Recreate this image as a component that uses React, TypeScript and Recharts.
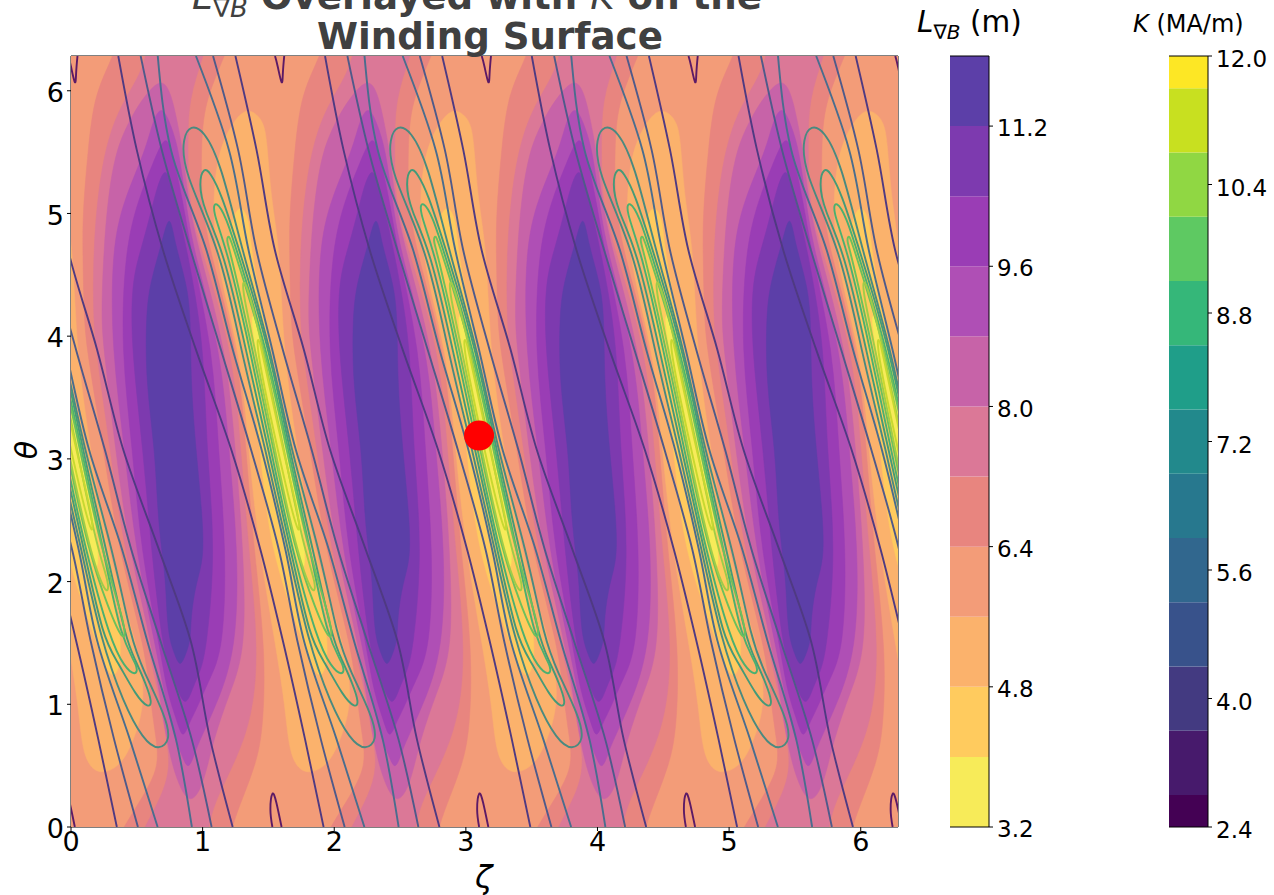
import React from 'react';
import { ScatterChart, Scatter, XAxis, YAxis, ReferenceLine, BarChart, Bar } from 'recharts';

type Pt = [number, number];

// Traced outlines for one field period, as [zeta, theta]. The picture repeats every pi/2 in zeta.
const FIELD_PERIOD = 1.5708;
const TWO_PI = 6.2832;
const xTicks = [0, 1, 2, 3, 4, 5, 6];
const yTicks = [0, 1, 2, 3, 4, 5, 6];
const backgroundOutline: Pt[] = [[0, 0], [0, TWO_PI], [TWO_PI, TWO_PI], [TWO_PI, 0]];

const band64: Pt[] = [[2.05,6.8],[1.90,6.283],[1.75,5.99],[1.70,5.52],[1.66,5.0],[1.66,4.70],[1.67,4.16],[1.69,3.89],[1.82,3.07],[1.93,2.26],[2.14,1.44],[2.18,0.98],[2.22,0.71],[2.24,0.49],[2.12,0.25],[1.97,0],[1.82,-0.3],[2.70,-0.4],[2.79,0],[2.88,0.25],[2.97,0.5],[3.03,0.77],[3.05,1.44],[2.96,2.26],[2.90,3.07],[2.84,3.89],[2.62,4.70],[2.56,5.11],[2.56,5.52],[2.58,5.9],[2.74,6.283],[2.92,6.8]];
const band72: Pt[] = [[2.24,6.7],[2.14,6.283],[2.09,6.12],[1.95,5.88],[1.85,5.61],[1.78,5.22],[1.74,4.70],[1.74,4.16],[1.76,3.89],[1.87,3.07],[1.97,2.26],[2.17,1.44],[2.29,0.77],[2.33,0.49],[2.26,0.25],[2.13,0],[2.0,-0.3],[2.52,-0.4],[2.62,0],[2.66,0.22],[2.94,0.77],[3.0,1.44],[2.92,2.26],[2.86,3.07],[2.80,3.89],[2.56,4.70],[2.46,5.11],[2.46,5.52],[2.46,5.93],[2.58,6.283],[2.68,6.7]];
const band80: Pt[] = [[2.26,6.11],[2.13,5.96],[2.03,5.79],[1.91,5.52],[1.85,5.11],[1.82,4.70],[1.80,4.16],[1.82,3.89],[1.91,3.07],[2.01,2.26],[2.20,1.44],[2.29,0.71],[2.38,0.35],[2.48,0.17],[2.58,0.35],[2.65,0.71],[2.78,1.1],[2.90,1.44],[2.88,2.26],[2.82,3.07],[2.75,3.89],[2.54,4.70],[2.46,5.11],[2.42,5.52],[2.37,5.79],[2.33,5.98]];
const band88: Pt[] = [[2.26,5.89],[2.19,5.75],[2.14,5.52],[1.97,5.11],[1.88,4.70],[1.88,3.89],[1.98,3.07],[2.06,2.26],[2.22,1.44],[2.30,0.98],[2.36,0.71],[2.41,0.6],[2.46,0.45],[2.51,0.6],[2.55,0.71],[2.67,0.98],[2.83,1.44],[2.84,2.26],[2.77,3.07],[2.71,3.89],[2.50,4.70],[2.44,5.11],[2.39,5.52],[2.33,5.72]];
const band96: Pt[] = [[2.29,5.66],[2.19,5.40],[2.08,5.11],[1.98,4.70],[1.95,3.89],[2.04,3.07],[2.10,2.26],[2.25,1.44],[2.30,1.1],[2.38,0.85],[2.42,0.71],[2.47,0.85],[2.52,0.95],[2.62,1.2],[2.73,1.44],[2.75,2.26],[2.69,3.07],[2.65,3.89],[2.48,4.70],[2.42,5.11],[2.34,5.5]];
const band104: Pt[] = [[2.29,5.40],[2.22,5.2],[2.17,4.97],[2.10,4.70],[2.03,4.43],[2.03,3.89],[2.12,3.07],[2.18,2.26],[2.27,1.44],[2.33,1.26],[2.37,1.15],[2.44,0.96],[2.50,1.15],[2.55,1.26],[2.60,1.44],[2.67,2.26],[2.60,3.07],[2.58,3.89],[2.50,4.43],[2.45,4.70],[2.39,5.0],[2.34,5.2]];
const band112: Pt[] = [[2.32,5.03],[2.26,4.75],[2.17,4.43],[2.14,4.16],[2.14,3.62],[2.21,3.07],[2.23,2.53],[2.27,2.18],[2.29,1.99],[2.30,1.71],[2.32,1.52],[2.36,1.40],[2.40,1.30],[2.44,1.40],[2.48,1.52],[2.48,1.71],[2.52,1.99],[2.58,2.18],[2.57,2.53],[2.52,3.07],[2.48,3.62],[2.48,4.16],[2.45,4.43],[2.36,4.75]];
const band48: Pt[] = [[2.91,5.87],[2.80,5.75],[2.66,5.45],[2.64,4.70],[2.86,3.89],[2.92,3.07],[3.0,2.26],[3.12,1.52],[3.20,0.98],[3.23,0.57],[3.34,0.42],[3.50,0.48],[3.60,0.65],[3.72,1.03],[3.64,1.52],[3.41,2.26],[3.29,3.07],[3.18,3.89],[3.16,4.70],[3.09,5.11],[3.06,5.6],[3.03,5.77]];
const band40: Pt[] = [[2.84,5.12],[2.73,4.73],[2.92,3.89],[3.01,3.07],[3.08,2.26],[3.33,1.52],[3.47,1.10],[3.56,1.52],[3.35,2.26],[3.24,3.07],[3.08,3.89],[2.93,4.73],[2.93,4.95]];
const band32: Pt[] = [[2.92,4.30],[2.97,3.89],[3.11,3.07],[3.26,2.26],[3.34,2.05],[3.36,2.26],[3.22,3.07],[3.08,3.89]];

const lineThetas = [6.283, 5.52, 4.70, 3.89, 3.07, 2.26, 1.52, 0.71, 0];
const lineAZetas = [1.93, 2.07, 2.27, 2.52, 2.79, 3.01, 3.18, 3.35, 3.49];
const lineBZetas = [2.10, 2.26, 2.48, 2.71, 2.94, 3.15, 3.29, 3.47, 3.65];
const lineCZetas = [2.23, 2.33, 2.60, 2.80, 3.02, 3.20, 3.34, 3.59, 3.80];
const lineDZetas = [2.52, 2.77, 2.92, 3.10, 3.28, 3.53, 3.72, 3.94, 4.06];
const lineEZetas = [2.65, 2.84, 2.98, 3.18, 3.40, 3.60, 3.82, 4.06, 4.21];
const lineFZetas = [2.82, 2.98, 3.12, 3.34, 3.54, 3.81, 4.05, 4.20, 4.37];

const loop1: Pt[] = [[2.48,5.72],[2.42,5.62],[2.42,5.35],[2.71,4.70],[2.86,3.89],[3.05,3.07],[3.22,2.26],[3.37,1.52],[3.54,1.01],[3.69,0.71],[3.81,0.62],[3.90,0.71],[3.86,0.90],[3.69,1.28],[3.60,1.52],[3.46,2.26],[3.24,3.07],[3.09,3.89],[2.87,4.70],[2.71,5.41],[2.58,5.68]];
const loop2: Pt[] = [[2.58,5.38],[2.54,5.25],[2.58,5.03],[2.73,4.70],[2.90,3.89],[3.07,3.07],[3.24,2.26],[3.39,1.52],[3.49,1.36],[3.64,1.06],[3.73,0.97],[3.76,1.01],[3.71,1.17],[3.63,1.36],[3.56,1.52],[3.41,2.26],[3.23,3.07],[3.08,3.89],[2.85,4.70],[2.71,5.17],[2.63,5.33]];
const loop3: Pt[] = [[2.67,5.11],[2.64,5.03],[2.76,4.70],[2.93,3.89],[3.09,3.07],[3.25,2.26],[3.44,1.52],[3.55,1.30],[3.63,1.23],[3.66,1.30],[3.52,1.52],[3.39,2.26],[3.22,3.07],[3.06,3.89],[2.83,4.70],[2.75,4.97]];
const loop4: Pt[] = [[2.77,4.84],[2.75,4.78],[2.78,4.70],[2.95,3.89],[3.11,3.07],[3.27,2.26],[3.43,1.77],[3.54,1.50],[3.57,1.6],[3.37,2.26],[3.21,3.07],[3.05,3.89],[2.81,4.70]];
const loop5: Pt[] = [[2.88,4.48],[2.87,4.38],[2.97,3.89],[3.12,3.07],[3.28,2.26],[3.41,1.87],[3.44,1.97],[3.34,2.26],[3.19,3.07],[3.03,3.89],[2.94,4.30]];
const loop6: Pt[] = [[2.99,4.01],[2.98,3.89],[3.14,3.07],[3.30,2.34],[3.32,2.46],[3.18,3.07],[3.02,3.89]];
const topCap: Pt[] = [[1.55,6.283],[1.57,6.2],[1.60,6.07],[1.61,6.15],[1.62,6.283]];
const bottomCap: Pt[] = [[1.53,0],[1.515,0.14],[1.53,0.27],[1.56,0.2],[1.60,0]];
const markerPoint: Pt[] = [[3.10, 3.19]];

const lgbBandColors = ['#F7EB59', '#FFCB5E', '#FBB26C', '#F39C78', '#E8857F', '#DB7897', '#C763A8', '#AF4FB5', '#9A3DB5', '#7D3AAF', '#5C3FA8'];
const lgbBandSpans = [0.8, 0.8, 0.8, 0.8, 0.8, 0.8, 0.8, 0.8, 0.8, 0.8, 0.8];
const lgbTicks = [3.2, 4.8, 6.4, 8.0, 9.6, 11.2];
const kBandColors = ['#440154', '#471A6C', '#433A81', '#38528B', '#31678E', '#27788E', '#22898C', '#1F9E89', '#35B779', '#5EC962', '#90D743', '#C8E020', '#FDE725'];
const kBandSpans = [0.4, 0.8, 0.8, 0.8, 0.8, 0.8, 0.8, 0.8, 0.8, 0.8, 0.8, 0.8, 0.4];
const kTicks = [2.4, 4.0, 5.6, 7.2, 8.8, 10.4, 12.0];

const filledBands: { outline: Pt[]; color: string }[] = [
  { outline: band64, color: lgbBandColors[4] },
  { outline: band72, color: lgbBandColors[5] },
  { outline: band80, color: lgbBandColors[6] },
  { outline: band88, color: lgbBandColors[7] },
  { outline: band96, color: lgbBandColors[8] },
  { outline: band104, color: lgbBandColors[9] },
  { outline: band112, color: lgbBandColors[10] },
  { outline: band48, color: lgbBandColors[2] },
  { outline: band40, color: lgbBandColors[1] },
  { outline: band32, color: lgbBandColors[0] },
];
const openLines = [
  { zetas: lineAZetas, color: '#4F3A82' },
  { zetas: lineBZetas, color: '#4F5A8A' },
  { zetas: lineCZetas, color: '#4A6D8E' },
  { zetas: lineDZetas, color: '#4A6D8E' },
  { zetas: lineEZetas, color: '#4F5A8A' },
  { zetas: lineFZetas, color: '#4F3A82' },
];
const closedLoops = [
  { outline: loop1, color: '#4A8A80' },
  { outline: loop2, color: '#459A78' },
  { outline: loop3, color: '#4CB070' },
  { outline: loop4, color: '#6DC05C' },
  { outline: loop5, color: '#A0CC48' },
  { outline: loop6, color: '#C8D830' },
];
const bandPeriods = [-2, -1, 0, 1, 2];
const linePeriods = [-2, -1, 0, 1, 2, 3];
const capPeriods = [-1, 0, 1, 2, 3];

const toRows = (pts: Pt[], k = 0) => pts.map(([z, t]) => ({ zeta: z + k * FIELD_PERIOD, theta: t }));
const noMark = () => <g />;
const axisFont = { fontFamily: 'DejaVu Sans', fontSize: 27, fill: '#000' };
const yAxisFont = { ...axisFont, dy: 1.5 };

function ColorBar({ left, width, colors, spans, ticks, min, max, labelDy }: { left: number; width: number; colors: string[]; spans: number[]; ticks: number[]; min: number; max: number; labelDy: number }) {
  const row: Record<string, number | string> = { name: 'bar', base: min };
  spans.forEach((s, i) => { row['b' + i] = s; });
  return (
    <div style={{ position: 'absolute', left, top: 0 }}>
      <BarChart width={width} height={895} data={[row]} barCategoryGap={0} margin={{ top: 56, bottom: 68, left: 0, right: 0 }}>
        <XAxis dataKey="name" hide />
        <YAxis yAxisId="r" orientation="right" width={width - 39} domain={[min, max]} ticks={ticks} interval={0}
          tickFormatter={(v: number) => v.toFixed(1)} tick={{ fontFamily: 'DejaVu Sans', fontSize: 23, fill: '#000', dy: labelDy }} tickSize={4} tickMargin={4}
          axisLine={{ stroke: '#000', strokeWidth: 1 }} tickLine={{ stroke: '#000' }} allowDataOverflow />
        <YAxis yAxisId="l" orientation="left" width={0} domain={[min, max]} tick={false} tickLine={false} axisLine={{ stroke: '#000', strokeWidth: 1 }} allowDataOverflow />
        <Bar yAxisId="r" dataKey="base" stackId="s" fill="none" isAnimationActive={false} />
        {spans.map((_, i) => (
          <Bar key={i} yAxisId="r" dataKey={'b' + i} stackId="s" fill={colors[i]} isAnimationActive={false} />
        ))}
        <ReferenceLine yAxisId="r" y={max} stroke="#000" />
        <ReferenceLine yAxisId="r" y={min} stroke="#000" />
      </BarChart>
    </div>
  );
}

export default function App() {
  const poly = (key: string, rows: { zeta: number; theta: number }[], color: string, joint = 'basisClosed') => (
    <Scatter key={key} data={rows} dataKey="theta" shape={noMark} isAnimationActive={false} lineType="joint" lineJointType={joint as 'linear'}
      line={{ fill: color, stroke: color, strokeWidth: 0.5 }} />
  );
  const stroke = (key: string, rows: { zeta: number; theta: number }[], color: string, joint: string) => (
    <Scatter key={key} data={rows} dataKey="theta" shape={noMark} isAnimationActive={false} lineType="joint" lineJointType={joint as 'linear'}
      line={{ fill: 'none', stroke: color, strokeWidth: 1.9 }} />
  );
  return (
    <div style={{ position: 'absolute', left: 0, top: 0, width: 1274, height: 895, overflow: 'hidden', background: '#fff', fontFamily: 'DejaVu Sans' }}>
      <div style={{ position: 'absolute', left: 0, top: 0 }}>
        <ScatterChart width={940} height={895} margin={{ top: 56, right: 42, bottom: 28, left: 31 }}>
          <XAxis type="number" dataKey="zeta" domain={[0, TWO_PI]} ticks={xTicks} allowDataOverflow height={40} tick={axisFont} tickSize={4} tickMargin={1}
            axisLine={{ stroke: '#000' }} tickLine={{ stroke: '#000' }} interval={0} />
          <YAxis type="number" dataKey="theta" domain={[0, TWO_PI]} ticks={yTicks} allowDataOverflow width={40} tick={yAxisFont} tickSize={4} tickMargin={3}
            axisLine={{ stroke: '#000' }} tickLine={{ stroke: '#000' }} interval={0} />
          {poly('bg', toRows(backgroundOutline), lgbBandColors[3], 'linear')}
          {filledBands.flatMap((b, i) => bandPeriods.map((k) => poly(`f${i}-${k}`, toRows(b.outline, k), b.color)))}
          {openLines.flatMap((l, i) => linePeriods.map((k) =>
            stroke(`o${i}-${k}`, l.zetas.map((z, j) => ({ zeta: z + k * FIELD_PERIOD, theta: lineThetas[j] })), l.color, 'monotoneY')))}
          {closedLoops.flatMap((l, i) => bandPeriods.map((k) => stroke(`c${i}-${k}`, toRows(l.outline, k), l.color, 'basisClosed')))}
          {capPeriods.map((k) => stroke(`t${k}`, toRows(topCap, k), '#5C1A66', 'natural'))}
          {capPeriods.map((k) => stroke(`u${k}`, toRows(bottomCap, k), '#5C1A66', 'natural'))}
          <Scatter data={toRows(markerPoint)} dataKey="theta" isAnimationActive={false} shape={(p: any) => <circle cx={p.cx} cy={p.cy} r={15} fill="#FF0000" />} />
          <ReferenceLine y={TWO_PI} stroke="#000" />
          <ReferenceLine x={TWO_PI} stroke="#000" />
        </ScatterChart>
      </div>

      <div style={{ position: 'absolute', left: 0, width: 980, top: -24, textAlign: 'center', fontWeight: 700, fontSize: 37.2, lineHeight: '40px', color: '#404040', whiteSpace: 'nowrap' }}>
        <span style={{ position: 'relative', left: -13 }}>
          <span style={{ fontWeight: 400, fontStyle: 'italic' }}>L<sub style={{ fontSize: 26, lineHeight: 0 }}>∇B</sub></span> Overlayed with <span style={{ fontWeight: 400, fontStyle: 'italic' }}>K</span> on the
        </span>
        <br />Winding Surface
      </div>
      <div style={{ position: 'absolute', left: 475, top: 857, fontSize: 32, fontStyle: 'italic', lineHeight: '40px' }}>ζ</div>
      <div style={{ position: 'absolute', left: 27, top: 450, fontSize: 30, fontStyle: 'italic', lineHeight: '30px', transform: 'translate(-50%,-50%) rotate(-90deg)' }}>θ</div>

      <div style={{ position: 'absolute', left: 917, top: 4, fontSize: 29.5, lineHeight: '36px', whiteSpace: 'nowrap' }}>
        <i>L<sub style={{ fontSize: 20, lineHeight: 0 }}>∇B</sub></i> (m)
      </div>
      <div style={{ position: 'absolute', left: 1133, top: 9, fontSize: 24, lineHeight: '30px', whiteSpace: 'nowrap' }}>
        <i>K</i> (MA/m)
      </div>

      <ColorBar left={950} width={110} colors={lgbBandColors} spans={lgbBandSpans} ticks={lgbTicks} min={3.2} max={12} labelDy={2} />
      <ColorBar left={1169} width={105} colors={kBandColors} spans={kBandSpans} ticks={kTicks} min={2.4} max={12} labelDy={3} />
    </div>
  );
}
